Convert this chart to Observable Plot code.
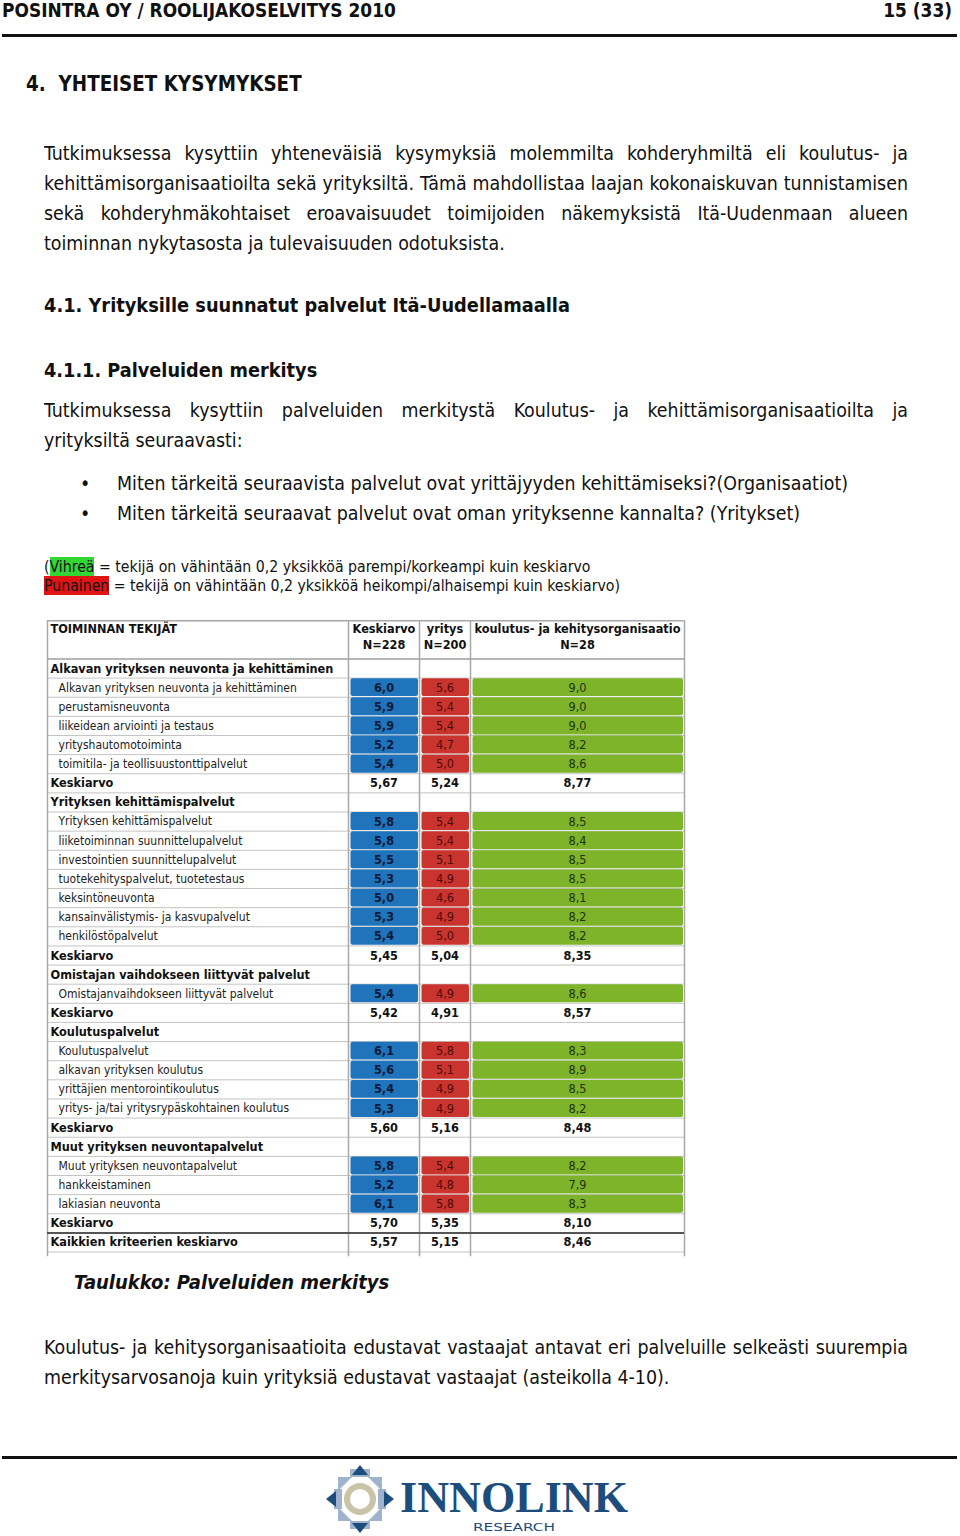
<!DOCTYPE html>
<html><head><meta charset="utf-8">
<script src="https://cdn.jsdelivr.net/npm/d3@7"></script>
<script src="https://cdn.jsdelivr.net/npm/@observablehq/plot@0.6"></script>
<style>
body{margin:0;background:#fff;}
#page{position:relative;width:960px;height:1536px;overflow:hidden;font-family:"DejaVu Sans Condensed","DejaVu Sans",sans-serif;font-stretch:condensed;color:#111;}
.l{position:absolute;white-space:nowrap;line-height:30px;height:30px;}
.t{font-size:19.4px;}
.j{text-align:justify;text-align-last:justify;white-space:normal;overflow:hidden;}
.b{font-weight:bold;}
.rule{position:absolute;left:2px;width:955px;height:3px;background:#111;}
#table{position:absolute;left:0;top:619px;}
</style></head>
<body><div id="page">
<div class="l b" style="left:2px;top:-5px;font-size:18.9px;">POSINTRA OY / ROOLIJAKOSELVITYS 2010</div>
<div class="l b" style="right:8px;top:-5px;font-size:18.9px;">15 (33)</div>
<div class="rule" style="top:34px;"></div>
<div class="l b" style="left:26px;top:69px;font-size:20.4px;">4.&nbsp;&nbsp;YHTEISET KYSYMYKSET</div>

<div class="l t j" style="left:44px;width:864px;top:139px;">Tutkimuksessa kysyttiin yhteneväisiä kysymyksiä molemmilta kohderyhmiltä eli koulutus- ja</div>
<div class="l t j" style="left:44px;width:864px;top:169px;">kehittämisorganisaatioilta sekä yrityksiltä. Tämä mahdollistaa laajan kokonaiskuvan tunnistamisen</div>
<div class="l t j" style="left:44px;width:864px;top:199px;">sekä kohderyhmäkohtaiset eroavaisuudet toimijoiden näkemyksistä Itä-Uudenmaan alueen</div>
<div class="l t" style="left:44px;top:229px;">toiminnan nykytasosta ja tulevaisuuden odotuksista.</div>

<div class="l b" style="left:44px;top:291px;font-size:19.8px;">4.1. Yrityksille suunnatut palvelut Itä-Uudellamaalla</div>
<div class="l b" style="left:44px;top:356px;font-size:19.7px;">4.1.1. Palveluiden merkitys</div>

<div class="l t j" style="left:44px;width:864px;top:396px;">Tutkimuksessa kysyttiin palveluiden merkitystä Koulutus- ja kehittämisorganisaatioilta ja</div>
<div class="l t" style="left:44px;top:426px;">yrityksiltä seuraavasti:</div>

<div class="l t" style="left:80px;top:469px;">•</div>
<div class="l t" style="left:117px;top:469px;">Miten tärkeitä seuraavista palvelut ovat yrittäjyyden kehittämiseksi?(Organisaatiot)</div>
<div class="l t" style="left:80px;top:499px;">•</div>
<div class="l t" style="left:117px;top:499px;">Miten tärkeitä seuraavat palvelut ovat oman yrityksenne kannalta? (Yritykset)</div>

<div class="l" style="left:44px;top:552px;font-size:15.7px;">(<span style="background:#33d633;">Vihreä</span> = tekijä on vähintään 0,2 yksikköä parempi/korkeampi kuin keskiarvo</div>
<div class="l" style="left:44px;top:571px;font-size:15.7px;"><span style="background:#e01414;">Punainen</span> = tekijä on vähintään 0,2 yksikköä heikompi/alhaisempi kuin keskiarvo)</div>

<div id="table"></div>

<div class="l b" style="left:74px;top:1267px;font-size:20px;font-style:italic;">Taulukko: Palveluiden merkitys</div>

<div class="l t j" style="left:44px;width:864px;top:1333px;">Koulutus- ja kehitysorganisaatioita edustavat vastaajat antavat eri palveluille selkeästi suurempia</div>
<div class="l t" style="left:44px;top:1363px;">merkitysarvosanoja kuin yrityksiä edustavat vastaajat (asteikolla 4-10).</div>

<div class="rule" style="top:1456px;"></div>

<svg style="position:absolute;left:320px;top:1460px;overflow:visible;" width="320" height="76">
  <g transform="translate(40,39)">
    <g fill="#9fb3cc">
      <polygon points="-22,-22 -8,-22 -22,-8"/>
      <polygon points="22,-22 8,-22 22,-8"/>
      <polygon points="-22,22 -8,22 -22,8"/>
      <polygon points="22,22 8,22 22,8"/>
      <rect x="-26" y="-10" width="8" height="20"/>
      <rect x="18" y="-10" width="8" height="20"/>
      <rect x="-10" y="-30" width="20" height="8"/>
      <rect x="-10" y="22" width="20" height="8"/>
    </g>
    <circle r="13" fill="none" stroke="#c9c4a8" stroke-width="6"/>
    <g fill="#1c4d7c">
      <polygon points="0,-34 -8,-24 8,-24"/>
      <polygon points="0,34 -8,24 8,24"/>
      <polygon points="-34,0 -24,-8 -24,8"/>
      <polygon points="34,0 24,-8 24,8"/>
    </g>
  </g>
  <text x="80" y="52" font-family="Liberation Serif, DejaVu Serif, serif" font-weight="bold" font-size="44" fill="#1c4d7c" textLength="228" lengthAdjust="spacingAndGlyphs">INNOLINK</text>
  <text x="153" y="71" font-family="DejaVu Sans, sans-serif" font-size="11" fill="#1c4d7c" textLength="82" lengthAdjust="spacingAndGlyphs">RESEARCH</text>
</svg>
</div>
<script>
// ---- data ----
const rowLabels = [
  "Alkavan yrityksen neuvonta ja kehittäminen",
  "Alkavan yrityksen neuvonta ja kehittäminen",
  "perustamisneuvonta",
  "liikeidean arviointi ja testaus",
  "yrityshautomotoiminta",
  "toimitila- ja teollisuustonttipalvelut",
  "Keskiarvo",
  "Yrityksen kehittämispalvelut",
  "Yrityksen kehittämispalvelut",
  "liiketoiminnan suunnittelupalvelut",
  "investointien suunnittelupalvelut",
  "tuotekehityspalvelut, tuotetestaus",
  "keksintöneuvonta",
  "kansainvälistymis- ja kasvupalvelut",
  "henkilöstöpalvelut",
  "Keskiarvo",
  "Omistajan vaihdokseen liittyvät palvelut",
  "Omistajanvaihdokseen liittyvät palvelut",
  "Keskiarvo",
  "Koulutuspalvelut",
  "Koulutuspalvelut",
  "alkavan yrityksen koulutus",
  "yrittäjien mentorointikoulutus",
  "yritys- ja/tai yritysrypäskohtainen koulutus",
  "Keskiarvo",
  "Muut yrityksen neuvontapalvelut",
  "Muut yrityksen neuvontapalvelut",
  "hankkeistaminen",
  "lakiasian neuvonta",
  "Keskiarvo",
  "Kaikkien kriteerien keskiarvo"
];
const rowKinds = [
  "group","item","item","item","item","item","avg",
  "group","item","item","item","item","item","item","item","avg",
  "group","item","avg",
  "group","item","item","item","item","avg",
  "group","item","item","item","avg",
  "total"
];
const keskiarvo = [null,6.0,5.9,5.9,5.2,5.4,5.67, null,5.8,5.8,5.5,5.3,5.0,5.3,5.4,5.45, null,5.4,5.42, null,6.1,5.6,5.4,5.3,5.60, null,5.8,5.2,6.1,5.70, 5.57];
const yritys    = [null,5.6,5.4,5.4,4.7,5.0,5.24, null,5.4,5.4,5.1,4.9,4.6,4.9,5.0,5.04, null,4.9,4.91, null,5.8,5.1,4.9,4.9,5.16, null,5.4,4.8,5.8,5.35, 5.15];
const koulutus  = [null,9.0,9.0,9.0,8.2,8.6,8.77, null,8.5,8.4,8.5,8.5,8.1,8.2,8.2,8.35, null,8.6,8.57, null,8.3,8.9,8.5,8.2,8.48, null,8.2,7.9,8.3,8.10, 8.46];
const columnTitles = ["TOIMINNAN TEKIJÄT","Keskiarvo","yritys","koulutus- ja kehitysorganisaatio"];
const columnN = ["","N=228","N=200","N=28"];

// ---- layout / style (not data) ----
const colEdges = [0, 301, 372, 423, 637];
const cellFill = ["none","#1f74bb","#c9352e","#7db42a"];
const cellText = ["#111","#0b1a3a","#4d0a0a","#22320c"];
const fontStack = '"DejaVu Sans Condensed","DejaVu Sans",sans-serif';

const series = [null, keskiarvo, yritys, koulutus];
const fmt = (v, k) => (k === "item" ? d3.format(".1f")(v) : d3.format(".2f")(v)).replace(".", ",");

const rows = rowLabels.map((label, i) => ({i, label, kind: rowKinds[i]}));
const cells = [];
rows.forEach(r => {
  for (let c = 1; c <= 3; c++) {
    const v = series[c][r.i];
    if (v != null) cells.push({row: r.i, col: c, kind: r.kind, value: v, text: fmt(v, r.kind)});
  }
});
const items = cells.filter(d => d.kind === "item");
const sums = cells.filter(d => d.kind !== "item");
const cols = columnTitles.map((t, c) => ({c, t, n: columnN[c], mid: (colEdges[c] + colEdges[c+1]) / 2}));
const boundaries = d3.range(0, rows.length + 1);
const mid = d => (colEdges[d.col] + colEdges[d.col + 1]) / 2;

const chart = Plot.plot({
  width: 700, height: 640,
  margin: 0,
  x: {domain: [0, 637], range: [47, 684], axis: null},
  y: {domain: [-2, 31.25], range: [1.2, 637.3], axis: null},
  style: {fontFamily: fontStack, fontSize: "12px", background: "transparent", color: "#111", overflow: "visible"},
  marks: [
    Plot.ruleY(boundaries, {y: d => d, x1: 0, x2: 637, stroke: "#c4c4c4", strokeWidth: 1}),
    Plot.ruleY([-2, 0], {y: d => d, x1: 0, x2: 637, stroke: "#a8a8a8", strokeWidth: 1.5}),
    Plot.ruleX(colEdges, {x: d => d, y1: -2, y2: 31.25, stroke: "#a8a8a8", strokeWidth: 1.5}),
    Plot.rect(items, {
      x1: d => colEdges[d.col], x2: d => colEdges[d.col + 1],
      y1: d => d.row, y2: d => d.row + 1,
      fill: d => cellFill[d.col], insetLeft: 2.5, insetRight: 1, insetTop: 0.6, insetBottom: 0.6, rx: 2
    }),
    Plot.ruleY([30], {y: d => d, x1: 0, x2: 637, stroke: "#555", strokeWidth: 2}),
    // header
    Plot.text(cols.filter(d => d.c === 0), {x: 0, y: -1.55, text: "t", textAnchor: "start", dx: 3, fontWeight: "bold", fontSize: 12.6, fill: "#111"}),
    Plot.text(cols.filter(d => d.c > 0), {x: "mid", y: -1.55, text: "t", fontWeight: "bold", fontSize: 12.6, fill: "#111"}),
    Plot.text(cols.filter(d => d.c > 0), {x: "mid", y: -0.75, text: "n", fontWeight: "bold", fontSize: 12.6, fill: "#111"}),
    // labels
    Plot.text(rows.filter(d => d.kind !== "item"), {x: 0, y: d => d.i + 0.5, text: "label", textAnchor: "start", dx: 3, fontWeight: "bold", fontSize: 12.6, fill: "#111"}),
    Plot.text(rows.filter(d => d.kind === "item"), {x: 0, y: d => d.i + 0.5, text: "label", textAnchor: "start", dx: 11, fill: "#222"}),
    // values
    Plot.text(items.filter(d => d.col === 1), {x: mid, y: d => d.row + 0.5, text: "text", fontWeight: "bold", fontSize: 12.6, fill: cellText[1]}),
    Plot.text(items.filter(d => d.col > 1), {x: mid, y: d => d.row + 0.5, text: "text", fontSize: 12.6, fill: d => cellText[d.col]}),
    Plot.text(sums, {x: mid, y: d => d.row + 0.5, text: "text", fontWeight: "bold", fontSize: 12.6, fill: "#111"})
  ]
});
document.getElementById("table").appendChild(chart);
</script>
</body></html>
